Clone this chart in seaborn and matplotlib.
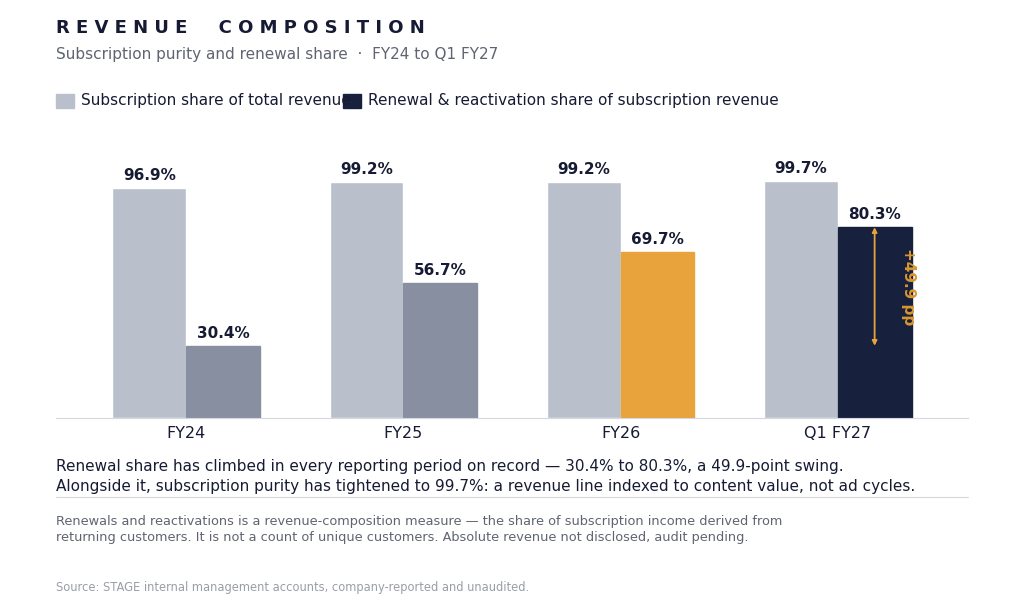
import pandas as pd
import seaborn as sns
import matplotlib.pyplot as plt
from matplotlib.patches import Rectangle

periods = ['FY24', 'FY25', 'FY26', 'Q1 FY27']
subscription_share = [96.9, 99.2, 99.2, 99.7]
renewal_share = [30.4, 56.7, 69.7, 80.3]
renewal_colors = ['#878FA0', '#878FA0', '#E8A33C', '#17213D']

df = pd.DataFrame({
    'period': periods * 2,
    'value': subscription_share + renewal_share,
    'series': ['sub'] * 4 + ['ren'] * 4,
})

sns.set_style('white')
plt.rcParams['font.family'] = ['DejaVu Sans']

W, H = 1024, 611
fig = plt.figure(figsize=(W / 100, H / 100), dpi=100)
ax = fig.add_axes([56 / W, 1 - 418 / H, 912 / W, (418 - 140) / H])

sns.barplot(data=df, x='period', y='value', hue='series', ax=ax,
            palette={'sub': '#B9C0CC', 'ren': '#878FA0'}, width=0.68,
            legend=False, saturation=1)

sub_bars = ax.patches[:4]
ren_bars = ax.patches[4:8]
for bar, c in zip(ren_bars, renewal_colors):
    bar.set_color(c)
for bar in list(sub_bars) + list(ren_bars):
    ax.text(bar.get_x() + bar.get_width() / 2, bar.get_height() + 2.2,
            f'{bar.get_height():.1f}%', ha='center', va='bottom',
            fontsize=11, fontweight='bold', color='#161B33')

ax.set_xlim(-0.6, 3.6)
ax.set_ylim(0, 117)
ax.set_xlabel('')
ax.set_ylabel('')
ax.set_yticks([])
ax.tick_params(axis='x', length=0, labelsize=11.5, colors='#161B33', pad=6)
sns.despine(ax=ax, left=True)
ax.spines['bottom'].set_color('#D5D8DE')

# delta arrow on last renewal bar
last = ren_bars[3]
xc = last.get_x() + last.get_width() / 2
ax.annotate('', xy=(xc, renewal_share[0]), xytext=(xc, renewal_share[3]),
            arrowprops=dict(arrowstyle='<|-|>', color='#E8A33C', lw=1.3,
                            mutation_scale=7, shrinkA=0, shrinkB=0))
ax.text(xc + 0.155, (renewal_share[0] + renewal_share[3]) / 2,
        f'+{renewal_share[3] - renewal_share[0]:.1f} pp', rotation=-90,
        ha='center', va='center', fontsize=11, fontweight='bold', color='#D9952F')

def ft(x, y, s, **kw):
    fig.text(x / W, 1 - y / H, s, va='center', ha='left', **kw)

ft(56, 28, ' '.join('REVENUE') + '     ' + ' '.join('COMPOSITION'),
   fontsize=13, fontweight='bold', color='#161B33')
ft(56, 55, 'Subscription purity and renewal share  ·  FY24 to Q1 FY27',
   fontsize=11, color='#5F6470')

fig.patches.append(Rectangle((56 / W, 1 - 108 / H), 18 / W, 14 / H,
                             color='#B9C0CC', transform=fig.transFigure))
ft(81, 101, 'Subscription share of total revenue', fontsize=11, color='#161B33')
fig.patches.append(Rectangle((343 / W, 1 - 108 / H), 18 / W, 14 / H,
                             color='#17213D', transform=fig.transFigure))
ft(368, 101, 'Renewal & reactivation share of subscription revenue',
   fontsize=11, color='#161B33')

ft(56, 466, 'Renewal share has climbed in every reporting period on record — '
   '30.4% to 80.3%, a 49.9-point swing.', fontsize=11, color='#161B33')
ft(56, 487, 'Alongside it, subscription purity has tightened to 99.7%: '
   'a revenue line indexed to content value, not ad cycles.',
   fontsize=11, color='#161B33')
fig.add_artist(plt.Line2D([56 / W, 968 / W], [1 - 497 / H] * 2,
                          color='#D5D8DE', lw=0.8))
ft(56, 521, 'Renewals and reactivations is a revenue-composition measure — '
   'the share of subscription income derived from', fontsize=9.3, color='#5F6470')
ft(56, 537, 'returning customers. It is not a count of unique customers. '
   'Absolute revenue not disclosed, audit pending.', fontsize=9.3, color='#5F6470')
ft(56, 588, 'Source: STAGE internal management accounts, company-reported and unaudited.',
   fontsize=8.3, color='#9A9EA8')

fig.savefig('out.png', dpi=100)
